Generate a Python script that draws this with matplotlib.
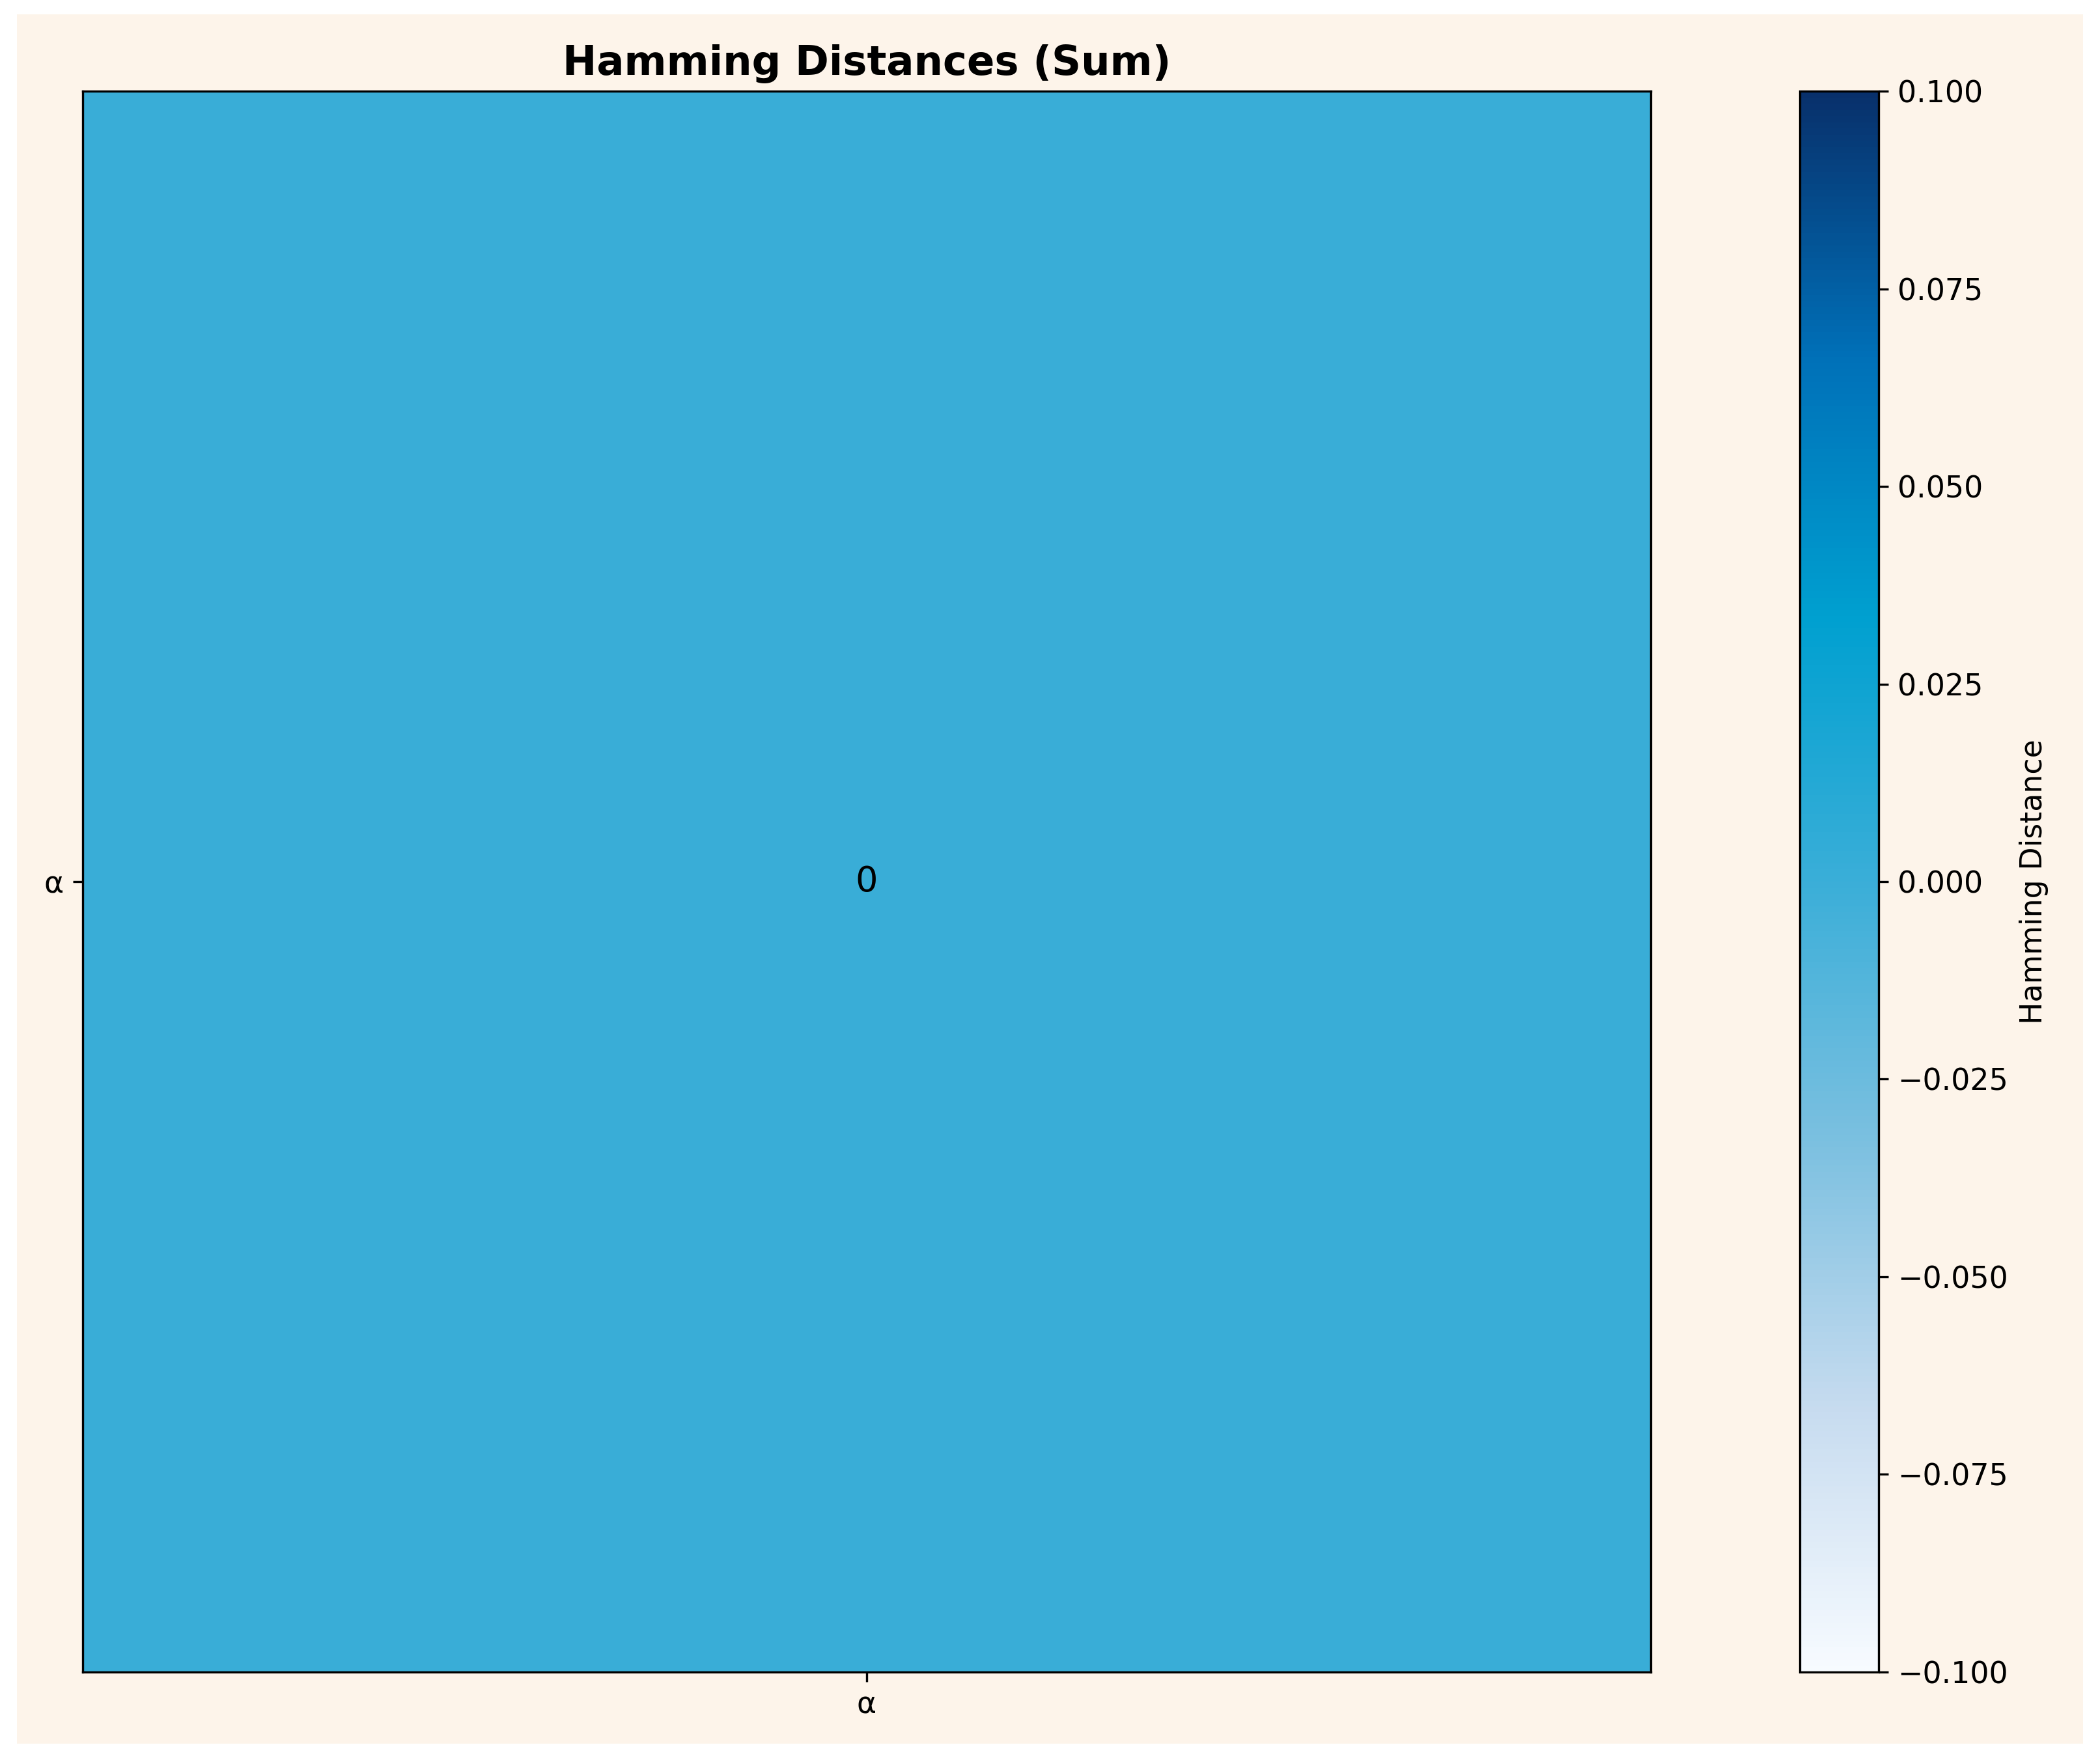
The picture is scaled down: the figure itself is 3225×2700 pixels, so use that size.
import numpy as np
import matplotlib
matplotlib.use("Agg")
import matplotlib.pyplot as plt
from matplotlib.colors import LinearSegmentedColormap
from matplotlib.patches import Rectangle

labels = ['α']
distances = np.array([[0]])

cmap = LinearSegmentedColormap.from_list(
    'hd', ['#f7fbff', '#c6dbef', '#7cc0e0', '#3aaed8', '#00a0d0', '#0070b8', '#08306b'])

fig = plt.figure(figsize=(10.75, 9), dpi=300, facecolor='white')
fig.patches.append(Rectangle((0.008, 0.008), 0.984, 0.984, transform=fig.transFigure,
                             facecolor='#fdf4ea', edgecolor='none', zorder=-1))

ax = fig.add_axes([0.0395, 0.049, 0.7465, 0.899])
im = ax.imshow(distances, cmap=cmap, vmin=-0.1, vmax=0.1, aspect='auto')
ax.set_xticks(range(len(labels)))
ax.set_xticklabels(labels, fontsize=11)
ax.set_yticks(range(len(labels)))
ax.set_yticklabels(labels, fontsize=11)
for i in range(len(labels)):
    for j in range(len(labels)):
        ax.text(j, i, str(distances[i, j]), ha='center', va='center', fontsize=13)
ax.set_title('Hamming Distances (Sum)', fontsize=15, fontweight='bold', pad=6)

cax = fig.add_axes([0.857, 0.049, 0.0376, 0.899])
cb = fig.colorbar(im, cax=cax)
cb.set_ticks([-0.1, -0.075, -0.05, -0.025, 0, 0.025, 0.05, 0.075, 0.1])
cb.ax.tick_params(labelsize=11)
cb.set_label('Hamming Distance', fontsize=11)

fig.savefig('out.png', dpi=300, facecolor=fig.get_facecolor())
